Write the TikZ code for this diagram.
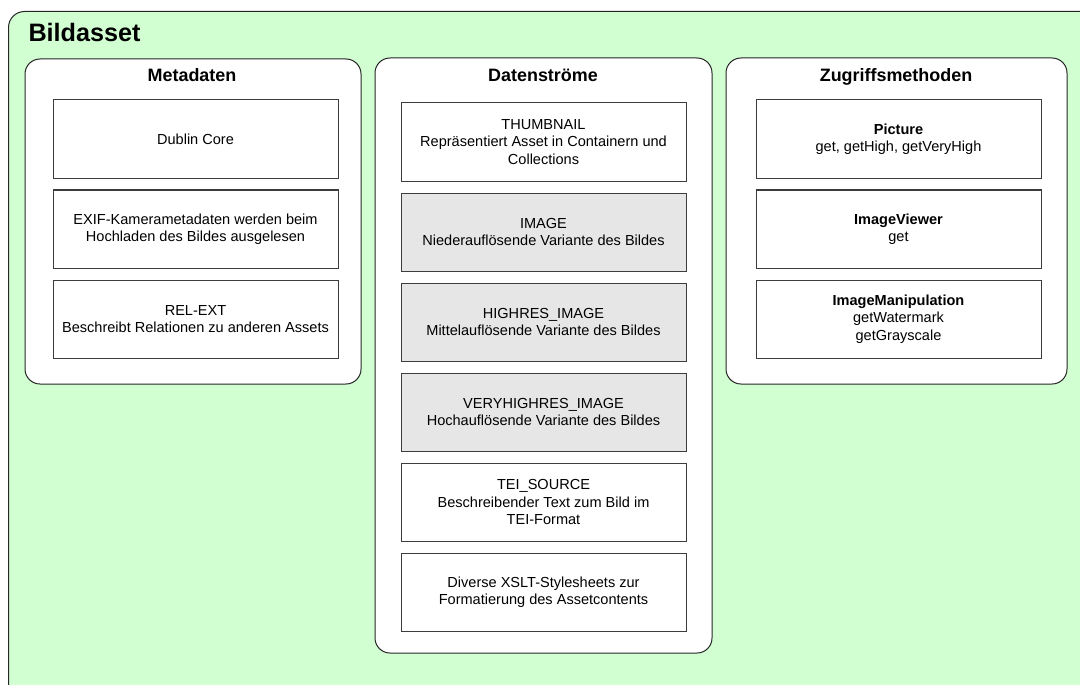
\documentclass[tikz,border=0pt]{standalone}
\usepackage{fontspec}
\setmainfont{Liberation Sans}
\definecolor{assetgreen}{RGB}{210,255,210}
\definecolor{boxgrey}{RGB}{230,230,230}
\definecolor{edgegrey}{RGB}{60,60,60}
\begin{document}
\begin{tikzpicture}[x=1bp,y=-1bp,
  outerbox/.style={draw=black!85, fill=assetgreen, line width=1bp, rounded corners=16bp},
  groupbox/.style={draw=black!85, fill=white, line width=1bp, rounded corners=15bp, inner sep=0pt, anchor=north west},
  grouptitle/.style={font=\fontsize{18}{21}\selectfont\bfseries, anchor=base},
  itembox/.style={draw=edgegrey, fill=white, line width=1bp, minimum width=285bp, minimum height=78bp, inner sep=2bp, anchor=north west, align=center, font=\fontsize{14.6}{17.5}\selectfont},
  greybox/.style={itembox, fill=boxgrey},
  titletext/.style={font=\fontsize{25.3}{30}\selectfont\bfseries, anchor=base west}
]
\useasboundingbox (0,0) rectangle (1080,685);
\begin{scope}
\clip (0,0) rectangle (1080,685);
\draw[outerbox] (8.5,11.5) rectangle (1100,705);
\end{scope}
\node[titletext] (title) at (25,42) {Bildasset};

% Metadaten
\node[groupbox, minimum width=336bp, minimum height=325bp] (meta) at (24.5,58.5) {};
\node[grouptitle] (metat) at (192,82) {Metadaten};
\node[itembox] (m1) at (52.5,99.5) {Dublin Core};
\node[itembox] (m2) at (52.5,189.5) {EXIF-Kamerametadaten werden beim\\Hochladen des Bildes ausgelesen};
\node[itembox] (m3) at (52.5,279.5) {REL-EXT\\Beschreibt Relationen zu anderen Assets};

% Datenstroeme
\node[groupbox, minimum width=337bp, minimum height=595bp] (data) at (374.5,57.5) {};
\node[grouptitle] (datat) at (543,82) {Datenströme};
\node[itembox] (d1) at (400.5,102.5) {THUMBNAIL\\Repräsentiert Asset in Containern und\\Collections};
\node[greybox] (d2) at (400.5,192.5) {IMAGE\\Niederauflösende Variante des Bildes};
\node[greybox] (d3) at (400.5,282.5) {HIGHRES\_IMAGE\\Mittelauflösende Variante des Bildes};
\node[greybox] (d4) at (400.5,372.5) {VERYHIGHRES\_IMAGE\\Hochauflösende Variante des Bildes};
\node[itembox] (d5) at (400.5,462.5) {TEI\_SOURCE\\Beschreibender Text zum Bild im\\TEI-Format};
\node[itembox] (d6) at (400.5,552.5) {Diverse XSLT-Stylesheets zur\\Formatierung des Assetcontents};

% Zugriffsmethoden
\node[groupbox, minimum width=341bp, minimum height=326bp] (acc) at (725.5,57.5) {};
\node[grouptitle] (acct) at (896,82) {Zugriffsmethoden};
\node[itembox] (z1) at (755.5,99.5) {\textbf{Picture}\\get, getHigh, getVeryHigh};
\node[itembox] (z2) at (755.5,189.5) {\textbf{ImageViewer}\\get};
\node[itembox] (z3) at (755.5,279.5) {\textbf{ImageManipulation}\\getWatermark\\getGrayscale};
\end{tikzpicture}
\end{document}
